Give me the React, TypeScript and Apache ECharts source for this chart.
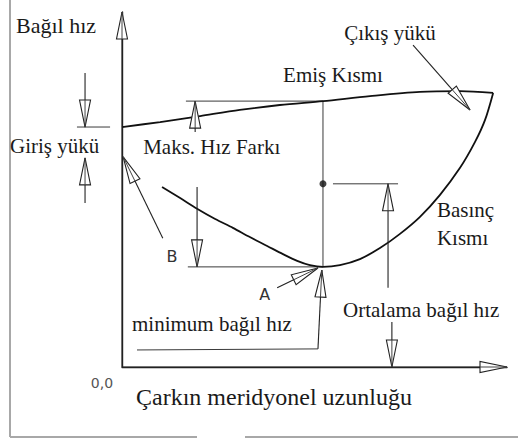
import React, { useEffect, useRef } from "react";
import * as echarts from "echarts";

// Blade loading diagram: relative velocity along the meridional length of an impeller.
// Units are relative (0..100 on both axes).

// Suction side (Emiş Kısmı) relative velocity
const suctionSide: number[][] = [
  [0, 67.6], [9.9, 69.0], [20.3, 70.7], [30.6, 72.4], [41.0, 73.8],
  [52.2, 74.9], [64.4, 76.3], [77.4, 77.5], [87.8, 77.7], [96.4, 77.2],
];

// Pressure side (Basınç Kısmı) relative velocity
const pressureSide: number[][] = [
  [10.4, 50.7], [15.1, 47.6], [19.5, 44.6], [24.2, 41.7], [28.8, 39.2],
  [33.2, 36.6], [37.7, 34.1], [41.8, 31.8], [45.5, 29.9], [48.8, 28.7],
  [52.2, 28.2], [56.6, 28.7], [61.8, 30.4], [67.0, 33.5], [72.2, 37.5],
  [77.4, 42.3], [82.6, 48.5], [87.8, 56.1], [91.7, 63.4], [94.3, 69.6],
  [96.4, 77.2],
];

// Key levels
const stationX = 52.2; // meridional station of max / min
const maxVelocity = 74.9;
const minVelocity = 28.2;
const meanVelocity = 51.6;
const inletSuction = 67.6;
const inletPressure = 58.9;

// Plain dimension lines: [x1, y1, x2, y2]
const guideLines: number[][] = [
  [-11.7, inletSuction, -3.1, inletSuction],
  [16.6, maxVelocity, stationX, maxVelocity],
  [17.1, minVelocity, stationX, minVelocity],
  [54.8, meanVelocity, 71.7, meanVelocity],
  [stationX, maxVelocity, stationX, minVelocity],
  [3.9, 4.8, 50.9, 5.1],
];

// Arrows: [tailX, tailY, tipX, tipY]
const arrowLines: number[][] = [
  [0, 0, 100, 0],
  [0, 0, 0, 100],
  [-9.6, 82.8, -9.6, inletSuction],
  [-9.6, 46.2, -9.6, inletPressure],
  [19.0, 66.2, 19.0, maxVelocity],
  [19.5, 50.7, 19.5, minVelocity],
  [10.6, 36.3, 0.3, 59.2],
  [40.3, 22.3, 50.9, 27.9],
  [50.9, 5.1, 51.9, 27.3],
  [69.1, 22.3, 69.1, meanVelocity],
  [70.1, 12.7, 70.1, 0],
  [75.6, 90.7, 90.4, 72.4],
];

// Annotation texts and their anchors in data units
const annotationText = [
  "Emiş Kısmı", "Çıkış yükü", "Giriş yükü", "Maks. Hız Farkı", "Basınç",
  "Kısmı", "Ortalama bağıl hız", "minimum bağıl hız", "A", "B", "0,0",
];
const annotationAnchor: number[][] = [
  [54.8, 82.3], [69.6, 94.1], [-29.1, 62.3], [5.5, 62.0], [81.8, 44.2],
  [81.8, 36.3], [57.4, 16.1], [2.6, 12.1], [37.1, 20.3], [13.0, 31.0], [-5.2, -4.5],
];
const annotationAlign = [
  "center", "center", "left", "left", "left",
  "left", "left", "left", "center", "center", "center",
];

const SERIF = "'Liberation Serif', serif";
const SANS = "'DejaVu Sans', sans-serif";
const INK = "#1a1a1a";

export default function App() {
  const ref = useRef<HTMLDivElement>(null);

  useEffect(() => {
    if (!ref.current) return;
    const chart = echarts.init(ref.current, undefined, { renderer: "svg" });

    const plainAxis = {
      type: "value" as const,
      min: 0,
      max: 100,
      axisLine: { show: true, lineStyle: { color: "#222", width: 1.4 } },
      axisTick: { show: false },
      axisLabel: { show: false },
      splitLine: { show: false },
    };

    chart.setOption({
      animation: false,
      backgroundColor: "#ffffff",
      grid: { left: 122, top: 12, width: 385, height: 355, containLabel: false },
      xAxis: { ...plainAxis },
      yAxis: { ...plainAxis },
      graphic: [
        // outer frame (left and bottom edges)
        { type: "line", shape: { x1: 10, y1: 0, x2: 10, y2: 437 }, style: { stroke: "#a8a8a8", lineWidth: 2 } },
        { type: "line", shape: { x1: 10, y1: 437, x2: 197, y2: 437 }, style: { stroke: "#a8a8a8", lineWidth: 2 } },
        { type: "line", shape: { x1: 245, y1: 437, x2: 518, y2: 437 }, style: { stroke: "#a8a8a8", lineWidth: 2 } },
        {
          type: "text", left: 16, top: 14,
          style: { text: "Bağıl hız", font: `22px ${SERIF}`, fill: INK },
        },
        {
          type: "text", left: 136, top: 385,
          style: { text: "Çarkın meridyonel uzunluğu", font: `24px ${SERIF}`, fill: INK },
        },
      ],
      series: [
        {
          name: "Emiş Kısmı",
          type: "line",
          data: suctionSide,
          smooth: 0.3,
          showSymbol: false,
          lineStyle: { color: "#111", width: 1.8 },
          z: 3,
        },
        {
          name: "Basınç Kısmı",
          type: "line",
          data: pressureSide,
          smooth: 0.3,
          showSymbol: false,
          lineStyle: { color: "#111", width: 1.8 },
          z: 3,
        },
        {
          name: "guides",
          type: "custom",
          data: guideLines,
          encode: { x: [0, 2], y: [1, 3] },
          clip: false,
          z: 2,
          renderItem: (_p: any, api: any) => {
            const a = api.coord([api.value(0), api.value(1)]);
            const b = api.coord([api.value(2), api.value(3)]);
            return {
              type: "line",
              shape: { x1: a[0], y1: a[1], x2: b[0], y2: b[1] },
              style: { stroke: "#3a3a3a", lineWidth: 1 },
            };
          },
        },
        {
          name: "arrows",
          type: "custom",
          data: arrowLines,
          encode: { x: [0, 2], y: [1, 3] },
          clip: false,
          z: 4,
          renderItem: (_p: any, api: any) => {
            const t = api.coord([api.value(0), api.value(1)]);
            const h = api.coord([api.value(2), api.value(3)]);
            const dx = h[0] - t[0];
            const dy = h[1] - t[1];
            const len = Math.sqrt(dx * dx + dy * dy) || 1;
            const ux = dx / len;
            const uy = dy / len;
            const nx = -uy;
            const ny = ux;
            const L = 27;
            const W = 5.5;
            const bx = h[0] - ux * L;
            const by = h[1] - uy * L;
            return {
              type: "group",
              children: [
                {
                  type: "line",
                  shape: { x1: t[0], y1: t[1], x2: h[0], y2: h[1] },
                  style: { stroke: "#222", lineWidth: 1.1 },
                },
                {
                  type: "polygon",
                  shape: {
                    points: [
                      [h[0], h[1]],
                      [bx + nx * W, by + ny * W],
                      [bx - nx * W, by - ny * W],
                    ],
                  },
                  style: { fill: "#ffffff", stroke: "#222", lineWidth: 1.1 },
                },
                {
                  type: "line",
                  shape: { x1: bx, y1: by, x2: h[0], y2: h[1] },
                  style: { stroke: "#444", lineWidth: 1 },
                },
              ],
            };
          },
        },
        {
          name: "Ortalama",
          type: "scatter",
          data: [[stationX, meanVelocity]],
          symbolSize: 7,
          itemStyle: { color: "#111" },
          z: 5,
        },
        {
          name: "labels",
          type: "custom",
          data: annotationAnchor,
          clip: false,
          z: 6,
          renderItem: (p: any, api: any) => {
            const i = p.dataIndex;
            const c = api.coord([api.value(0), api.value(1)]);
            const single = annotationText[i].length <= 3;
            const origin = annotationText[i] === "0,0";
            return {
              type: "text",
              x: c[0],
              y: c[1],
              style: {
                text: annotationText[i],
                font: single ? `${origin ? 14 : 16}px ${SANS}` : `21px ${SERIF}`,
                fill: origin ? "#555" : single ? "#333" : INK,
                align: annotationAlign[i],
                verticalAlign: "middle",
              },
            };
          },
        },
      ],
    });

    return () => chart.dispose();
  }, []);

  return (
    <div
      ref={ref}
      style={{ position: "fixed", left: 0, top: 0, width: 518, height: 444, background: "#fff" }}
    />
  );
}
